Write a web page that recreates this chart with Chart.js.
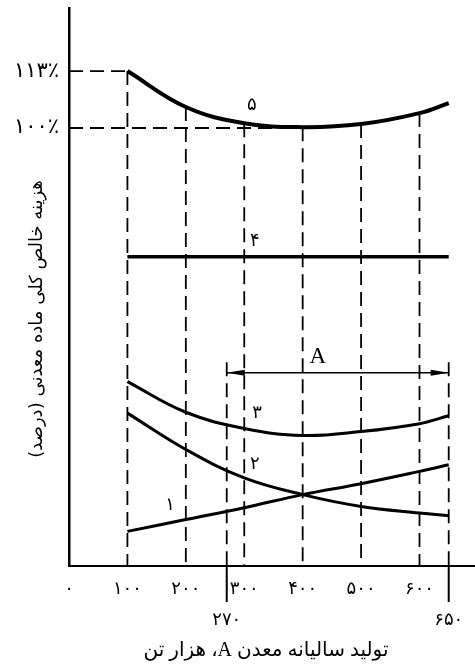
<!DOCTYPE html>
<html>
<head>
<meta charset="utf-8">
<script src="https://cdn.jsdelivr.net/npm/chart.js@4.4.1/dist/chart.umd.min.js"></script>
<style>
html, body { margin: 0; padding: 0; background: #fff; }
</style>
</head>
<body>
<canvas id="chart" width="475" height="669"></canvas>
<script>
// تولید سالیانه (هزار تن) و منحنی‌ها (درصد)
const prodX = [100, 200, 300, 400, 500, 600, 650];
const curve5 = [113, 104.8, 101.1, 100.2, 100.9, 103.4, 105.7];
const curve4 = [70.6, 70.6, 70.6, 70.6, 70.6, 70.6, 70.6];
const curve3 = [42.1, 35.1, 31.4, 29.8, 30.7, 32.5, 34.3];
const curve2 = [34.9, 26.6, 20.1, 16.3, 13.6, 12.1, 11.5];
const curve1 = [7.9, 10.6, 13.3, 16.3, 18.8, 21.6, 23.1];

// خطوط راهنما
const guideX = [100, 200, 270, 300, 400, 500, 600, 650];
const guideTop = [113, 104.8, 46.5, 101.1, 100.2, 100.9, 103.4, 46.5];
const levelY = [113, 100];
const levelEnd = [100, 400];

// محدوده A
const spanA = [270, 650];
const spanY = 44.1;

const xTicks = [0, 100, 200, 300, 400, 500, 600];
const xExtraTicks = [270, 650];
const yTicks = [100, 113];

const curveNames = ['۵', '۴', '۳', '۲', '۱'];
const nameX = [313, 318, 322, 318, 173];
const nameY = [105.2, 74.2, 34.8, 23.1, 13.8];
const spanLabel = { text: 'A', x: 426, y: 47.8 };

const xTitle = 'تولید سالیانه معدن A، هزار تن';
const yTitle = 'هزینه خالص کلی ماده معدنی (درصد)';

const fa = n => String(n).replace(/\d/g, d => '۰۱۲۳۴۵۶۷۸۹'[d]);
const pts = (xs, ys) => xs.map((x, i) => ({ x: x, y: ys[i] }));

function curve(ys, w) {
    return {
        data: pts(prodX, ys),
        borderColor: '#000',
        borderWidth: w,
        pointRadius: 0,
        tension: 0.4,
        fill: false
    };
}

// خطوط خط‌چین عمودی و افقی
const guidePts = [];
guideX.forEach((g, i) => {
    guidePts.push({ x: g, y: guideTop[i] }, { x: g, y: 0 }, { x: g, y: null });
});
levelY.forEach((v, i) => {
    guidePts.push({ x: 0, y: v }, { x: levelEnd[i], y: v }, { x: 0, y: null });
});

// تیک‌های بلند زیر محور
const tickPts = [];
xExtraTicks.forEach(v => {
    tickPts.push({ x: v, y: 0 }, { x: v, y: -8.2 }, { x: v, y: null });
});

const annot = {
    id: 'annot',
    afterDatasetsDraw(chart) {
        const { ctx, scales: { x, y } } = chart;
        ctx.save();
        ctx.fillStyle = '#000';
        ctx.textAlign = 'center';
        ctx.textBaseline = 'middle';

        ctx.font = '18px "DejaVu Sans"';
        curveNames.forEach((t, i) => {
            ctx.fillText(t, x.getPixelForValue(nameX[i]), y.getPixelForValue(nameY[i]));
        });

        ctx.font = '23px "Liberation Serif"';
        ctx.fillText(spanLabel.text, x.getPixelForValue(spanLabel.x), y.getPixelForValue(spanLabel.y));

        // سر فلش‌ها
        const ay = y.getPixelForValue(spanY);
        [[spanA[0], 1], [spanA[1], -1]].forEach(([v, dir]) => {
            const px = x.getPixelForValue(v);
            ctx.beginPath();
            ctx.moveTo(px, ay);
            ctx.lineTo(px + dir * 18, ay - 3);
            ctx.lineTo(px + dir * 18, ay + 3);
            ctx.closePath();
            ctx.fill();
        });

        ctx.font = '18px "DejaVu Sans"';
        xExtraTicks.forEach(v => {
            ctx.fillText(fa(v), x.getPixelForValue(v), 620);
        });

        // عنوان‌ها راست‌به‌چپ
        ctx.direction = 'rtl';
        ctx.font = '20px "Liberation Serif", "DejaVu Sans"';
        ctx.fillText(xTitle, 266, 651);

        ctx.translate(37, 319);
        ctx.rotate(-Math.PI / 2);
        ctx.font = '18px "DejaVu Sans"';
        ctx.fillText(yTitle, 0, 0);
        ctx.restore();
    }
};

new Chart(document.getElementById('chart').getContext('2d'), {
    type: 'line',
    data: {
        datasets: [
            {
                data: guidePts,
                borderColor: '#000',
                borderWidth: 1.8,
                borderDash: [14, 7],
                pointRadius: 0,
                spanGaps: false
            },
            {
                data: tickPts,
                borderColor: '#000',
                borderWidth: 2,
                pointRadius: 0,
                spanGaps: false,
                clip: false
            },
            {
                data: [{ x: spanA[0], y: spanY }, { x: spanA[1], y: spanY }],
                borderColor: '#000',
                borderWidth: 1.5,
                pointRadius: 0
            },
            curve(curve5, 4),
            curve(curve4, 3.5),
            curve(curve3, 3),
            curve(curve2, 3),
            curve(curve1, 3)
        ]
    },
    options: {
        responsive: false,
        animation: false,
        devicePixelRatio: 1,
        layout: { padding: { top: 8, right: 0, left: 0, bottom: 0 } },
        plugins: {
            legend: { display: false },
            tooltip: { enabled: false }
        },
        scales: {
            x: {
                type: 'linear',
                min: 0,
                max: 695,
                afterFit: s => { s.height = 103; s.paddingLeft = 0; s.paddingRight = 0; },
                afterBuildTicks: s => { s.ticks = xTicks.map(v => ({ value: v })); },
                grid: { display: false },
                border: { display: true, color: '#000', width: 2 },
                ticks: {
                    color: '#000',
                    font: { family: 'DejaVu Sans', size: 18 },
                    padding: 5,
                    maxRotation: 0,
                    callback: v => fa(v)
                }
            },
            y: {
                type: 'linear',
                min: 0,
                max: 127.4,
                afterFit: s => { s.width = 69; s.paddingTop = 0; s.paddingBottom = 0; },
                afterBuildTicks: s => { s.ticks = yTicks.map(v => ({ value: v })); },
                grid: { display: false },
                border: { display: true, color: '#000', width: 2.5 },
                ticks: {
                    color: '#000',
                    font: { family: 'DejaVu Sans', size: 21 },
                    padding: 2,
                    callback: v => fa(v) + '٪'
                }
            }
        }
    },
    plugins: [annot]
});
</script>
</body>
</html>
